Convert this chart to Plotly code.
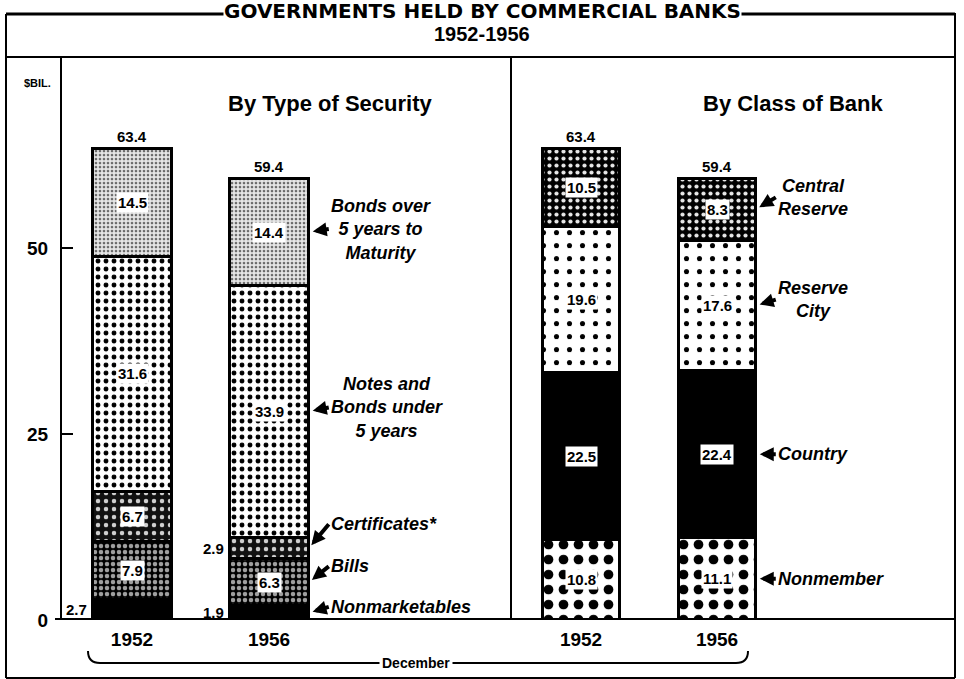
import plotly.graph_objects as go

# ---------------- data ----------------
years = ["1952", "1956"]

type_names = ["Nonmarketables", "Bills", "Certificates*",
              "Notes and<br>Bonds under<br>5 years",
              "Bonds over<br>5 years to<br>Maturity"]
nonmarketables = [2.7, 1.9]
bills = [7.9, 6.3]
certificates = [6.7, 2.9]
notes_under5 = [31.6, 33.9]
bonds_over5 = [14.5, 14.4]

class_names = ["Nonmember", "Country", "Reserve<br>City", "Central<br>Reserve"]
nonmember = [10.8, 11.1]
country = [22.5, 22.4]
reserve_city = [19.6, 17.6]
central_reserve = [10.5, 8.3]

y_ticks = [0, 25, 50]

# ---------------- layout helpers ----------------
W, H_REF = 964, 679
H_FIG = 691
def X(px):
    return px / W
def Y(py):
    return 1 - py / H_REF

FONT = "Liberation Sans"
type_series = [nonmarketables, bills, certificates, notes_under5, bonds_over5]
type_styles = [
    dict(color="black"),
    dict(color="black", pattern=dict(shape=".", fgcolor="#a0a0a0", bgcolor="black", size=6,
                                     solidity=0.45, fgopacity=1)),
    dict(color="black", pattern=dict(shape=".", fgcolor="#d0d0d0", bgcolor="#111", size=8,
                                     solidity=0.25, fgopacity=1)),
    dict(color="white", pattern=dict(shape=".", fgcolor="black", bgcolor="white", size=8,
                                     solidity=0.3, fgopacity=1)),
    dict(color="#dcdcdc", pattern=dict(shape=".", fgcolor="#6a6a6a", bgcolor="#e6e6e6", size=4,
                                       solidity=0.35, fgopacity=1)),
]
class_series = [nonmember, country, reserve_city, central_reserve]
class_styles = [
    dict(color="white", pattern=dict(shape=".", fgcolor="black", bgcolor="white", size=15,
                                     solidity=0.33, fgopacity=1)),
    dict(color="black"),
    dict(color="white", pattern=dict(shape=".", fgcolor="black", bgcolor="white", size=13,
                                     solidity=0.12, fgopacity=1)),
    dict(color="black", pattern=dict(shape=".", fgcolor="#e8e8e8", bgcolor="black", size=7,
                                     solidity=0.28, fgopacity=1)),
]

fig = go.Figure()
for vals, st, nm in zip(type_series, type_styles, type_names):
    fig.add_trace(go.Bar(x=years, y=vals, name=nm, xaxis="x", yaxis="y", width=0.58,
                         marker=dict(**st, line=dict(color="black", width=3)),
                         hoverinfo="skip"))
for vals, st, nm in zip(class_series, class_styles, class_names):
    fig.add_trace(go.Bar(x=years, y=vals, name=nm, xaxis="x2", yaxis="y", width=0.57,
                         marker=dict(**st, line=dict(color="black", width=3)),
                         hoverinfo="skip"))

annotations = []
label_font = dict(family=FONT, size=15, color="black", weight="bold")

def segment_labels(series, xref, half_width):
    for i in range(len(years)):
        base = 0.0
        for vals in series:
            v = vals[i]
            mid = base + v / 2
            if v >= 4:
                annotations.append(dict(x=i, y=mid, xref=xref, yref="y", text=f"{v}",
                                        showarrow=False, bgcolor="white", borderpad=1,
                                        xanchor="center", yanchor="middle", font=label_font))
            else:
                annotations.append(dict(x=i - half_width, y=mid, xref=xref, yref="y", text=f"{v}",
                                        showarrow=False, xanchor="right", yanchor="middle",
                                        xshift=-3, font=label_font))
            base += v
        total = round(base, 1)
        annotations.append(dict(x=i, y=total, xref=xref, yref="y", text=f"{total}",
                                showarrow=False, xanchor="center", yanchor="bottom", yshift=2,
                                font=label_font))

segment_labels(type_series, "x", 0.29)
segment_labels(class_series, "x2", 0.285)

name_font = dict(family=FONT, size=18, color="black", weight="bold", style="italic")

def series_names(series, names, xref, half_width, offsets):
    base = 0.0
    for vals, nm, (ax, ay) in zip(series, names, offsets):
        v = vals[1]
        mid = base + v / 2
        annotations.append(dict(x=1 + half_width, y=mid, xref=xref, yref="y", text=nm,
                                showarrow=True, arrowhead=2, arrowsize=0.7, arrowwidth=4,
                                arrowcolor="black", standoff=4, ax=ax, ay=ay,
                                xanchor="left", yanchor="middle", align="center", font=name_font))
        base += v

series_names(type_series, type_names, "x", 0.29,
             [(20, -6), (20, -16), (20, -24), (20, -4), (20, -3)])
series_names(class_series, class_names, "x2", 0.285,
             [(20, 0), (20, 0), (20, -6), (20, -12)])

def paper_text(px, py, text, font, **kw):
    d = dict(x=X(px), y=Y(py), xref="paper", yref="paper", text=text, showarrow=False,
             xanchor="center", yanchor="middle", font=font)
    d.update(kw)
    annotations.append(d)

paper_text(482, 11, "GOVERNMENTS HELD BY COMMERCIAL BANKS",
           dict(family="DejaVu Sans", size=20, color="black", weight="bold"),
           bgcolor="white", borderpad=0)
paper_text(482, 34, "1952-1956", dict(family=FONT, size=20, color="black", weight="bold"))
paper_text(330, 103, "By Type of Security", dict(family=FONT, size=22, color="black", weight="bold"))
paper_text(793, 103, "By Class of Bank", dict(family=FONT, size=22, color="black", weight="bold"))
paper_text(37, 83, "$BIL.", dict(family=FONT, size=11, color="black", weight="bold"))
paper_text(416, 662, "December", dict(family=FONT, size=14, color="black", weight="bold"),
           bgcolor="white", borderpad=2)

line = dict(color="black", width=2)
shapes = [
    dict(type="line", xref="paper", yref="paper", x0=X(6), x1=X(6), y0=Y(14), y1=Y(677), line=line),
    dict(type="line", xref="paper", yref="paper", x0=X(955), x1=X(955), y0=Y(13), y1=Y(677), line=line),
    dict(type="line", xref="paper", yref="paper", x0=X(6), x1=X(955), y0=Y(677), y1=Y(677), line=line),
    dict(type="line", xref="paper", yref="paper", x0=X(6), x1=X(955), y0=Y(14), y1=Y(14),
         line=dict(color="black", width=3)),
    dict(type="line", xref="paper", yref="paper", x0=X(6), x1=X(955), y0=Y(57), y1=Y(57), line=line),
    dict(type="line", xref="paper", yref="paper", x0=X(511), x1=X(511), y0=Y(57), y1=Y(619), line=line),
    dict(type="line", xref="paper", yref="y", x0=X(55), x1=X(955), y0=0, y1=0,
         line=dict(color="black", width=4)),
    dict(type="path", xref="paper", yref="paper",
         path=f"M {X(88)},{Y(650)} Q {X(88)},{Y(662)} {X(100)},{Y(662)} L {X(736)},{Y(662)} "
              f"Q {X(748)},{Y(662)} {X(748)},{Y(650)}",
         line=line),
]

tick_font = dict(family=FONT, size=19, color="black", weight="bold")
fig.update_layout(
    width=W, height=H_FIG, autosize=False, barmode="stack", showlegend=False,
    margin=dict(l=0, r=0, t=0, b=0),
    paper_bgcolor="white", plot_bgcolor="white",
    font=dict(family=FONT, color="black"),
    xaxis=dict(domain=[X(62), X(511)], range=[-0.511, 2.766], anchor="y",
               showgrid=False, showline=False, zeroline=False, ticks="",
               tickfont=tick_font, ticklabelstandoff=6, fixedrange=True),
    xaxis2=dict(domain=[X(511), X(955)], range=[-0.515, 2.75], anchor="y",
                showgrid=False, showline=False, zeroline=False, ticks="",
                tickfont=tick_font, ticklabelstandoff=6, fixedrange=True),
    yaxis=dict(domain=[Y(619), Y(57)], range=[0, (619 - 57) / 7.42], anchor="x",
               tickvals=y_ticks, ticktext=[str(t) for t in y_ticks],
               showgrid=False, zeroline=False, showline=True, linecolor="black", linewidth=2,
               ticks="inside", ticklen=11, tickwidth=2, tickcolor="black",
               tickfont=tick_font, ticklabelstandoff=8, fixedrange=True),
    annotations=annotations, shapes=shapes,
)

post = (
    "document.documentElement.style.margin='0';"
    "document.body.style.margin='0';"
)
fig.write_html("out.html", config={"displayModeBar": False, "responsive": False},
               post_script=post)
